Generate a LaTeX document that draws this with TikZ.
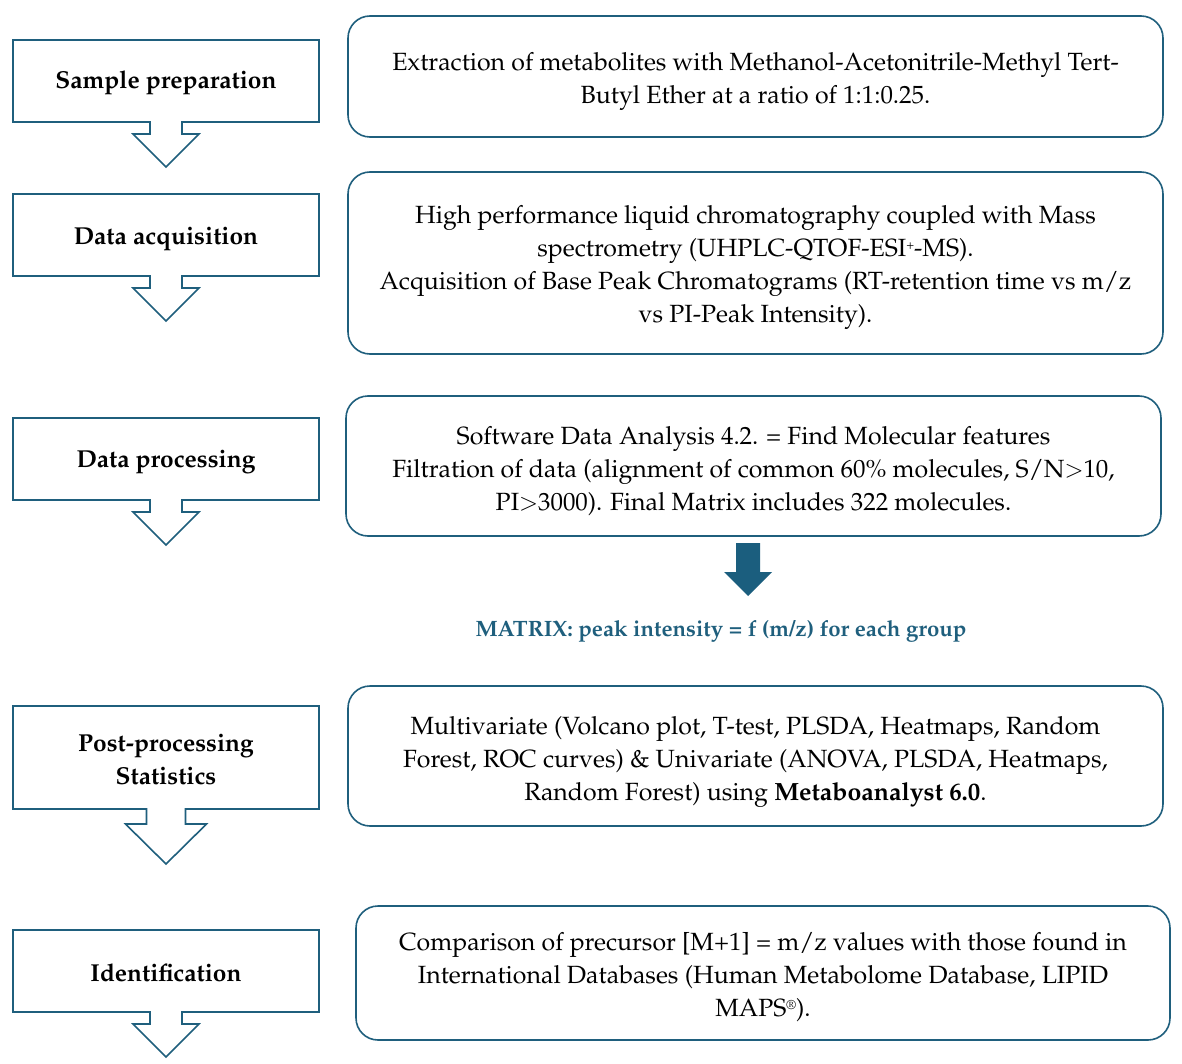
\documentclass[tikz,border=0pt]{standalone}
\usepackage[T1]{fontenc}
\renewcommand{\rmdefault}{ppl}
\usetikzlibrary{positioning}
\definecolor{bord}{RGB}{31,95,125}
\definecolor{arrfill}{RGB}{27,94,126}
\tikzset{
  rbox/.style={draw=bord, line width=1.6pt, rounded corners=22pt, align=center, inner sep=0pt},
  btext/.style={align=center, inner sep=0pt, font=\fontsize{24.9}{33}\selectfont},
  lbl/.style={align=center, font=\fontsize{24.5}{33}\selectfont\bfseries, inner sep=0pt},
  callout/.style={draw=bord, line width=1.6pt, line join=miter, fill=white},
}
% callout: #1 top, #2 bottom, #3 stem half, #4 head half, #5 shoulder offset, #6 tip offset
\newcommand{\calloutshape}[6]{%
  \draw[callout] (13,#1) -- (319,#1) -- (319,#2) -- (166+#3,#2) -- (166+#3,#2+#5)
    -- (166+#4,#2+#5) -- (166,#2+#6) -- (166-#4,#2+#5) -- (166-#3,#2+#5) -- (166-#3,#2)
    -- (13,#2) -- cycle;}
\newcommand{\smallsup}[1]{\raisebox{0.6ex}{\fontsize{13}{13}\selectfont #1}}
\begin{document}
\begin{tikzpicture}[x=1pt,y=-1pt]
\useasboundingbox (0,0) rectangle (1182,1064);
\fill[white] (0,0) rectangle (1182,1064);

% left callouts
\calloutshape{40}{122}{16}{33}{12}{45}
\node[lbl] (l1) at (166,83) {Sample preparation};
\calloutshape{194}{276}{16}{33}{12}{45}
\node[lbl] (l2) at (166,239) {Data acquisition};
\calloutshape{418}{500}{16}{33}{12}{45}
\node[lbl] (l3) at (166,462) {Data processing};
\calloutshape{706}{809}{19.5}{40.5}{15}{55}
\node[lbl] (l4) at (166,760) {Post-processing\\Statistics};
\calloutshape{930}{1012}{16}{33}{12}{45}
\node[lbl] (l5) at (166,973) {Identification};

% right boxes
\node[rbox, minimum width=815pt, minimum height=121pt] (r1) at (755.5,76.5) {};
\node[btext] (t1) at (755.5,81.5)
 {Extraction of metabolites with Methanol-Acetonitrile-Methyl Tert-\\Butyl Ether at a ratio of 1:1:0.25.};

\node[rbox, minimum width=815pt, minimum height=182pt] (r2) at (755.5,263) {};
\node[btext] (t2) at (755.5,268)
 {High performance liquid chromatography coupled with Mass\\spectrometry (UHPLC-QTOF-ESI\smallsup{+}-MS).\\Acquisition of Base Peak Chromatograms (RT-retention time vs m/z\\vs PI-Peak Intensity).};

\node[rbox, minimum width=815pt, minimum height=140pt] (r3) at (753.5,466) {};
\node[btext] (t3) at (753.5,471.5)
 {Software Data Analysis 4.2. = Find Molecular features\\Filtration of data (alignment of common 60\% molecules, S/N$>$10,\\PI$>$3000). Final Matrix includes 322 molecules.};

% blue arrow (from r3 towards the matrix label)
\fill[arrfill] (736,543) -- (760,543) -- (760,572) -- (772,572) -- (748,596) -- (724,572) -- (736,572) -- cycle;
\node[font=\fontsize{22.2}{26}\selectfont\bfseries, text=bord, inner sep=0pt] (mx) at (721,631)
 {MATRIX: peak intensity = f (m/z) for each group};

\node[rbox, minimum width=815pt, minimum height=140pt] (r4) at (755.5,756) {};
\node[btext] (t4) at (755.5,761.5)
 {Multivariate (Volcano plot, T-test, PLSDA, Heatmaps, Random\\Forest, ROC curves) \& Univariate (ANOVA, PLSDA, Heatmaps,\\Random Forest) using \textbf{Metaboanalyst 6.0}.};

\node[rbox, minimum width=814pt, minimum height=134pt] (r5) at (763,973) {};
\node[btext] (t5) at (763,977.5)
 {Comparison of precursor [M+1] = m/z values with those found in\\International Databases (Human Metabolome Database, LIPID\\MAPS\smallsup{\textregistered}).};
\end{tikzpicture}
\end{document}
